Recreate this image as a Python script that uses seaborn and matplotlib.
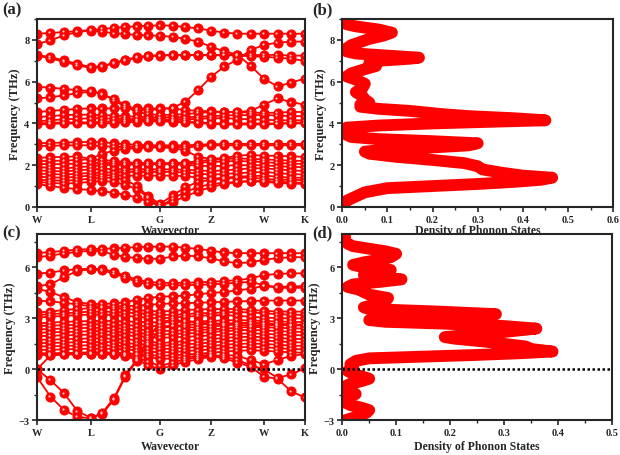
import numpy as np
import pandas as pd
import matplotlib
matplotlib.use("Agg")
import matplotlib.pyplot as plt
import seaborn as sns
from matplotlib.ticker import MultipleLocator, FixedFormatter, FormatStrFormatter

# ---------------- data ----------------
# k-path positions of the computed points (W -> L -> G -> Z -> W -> K)
k_path = [0.000, 0.050, 0.101, 0.151, 0.201, 0.244, 0.287, 0.330, 0.373, 0.416, 0.459,
          0.507, 0.554, 0.602, 0.649, 0.699, 0.748, 0.798, 0.847, 0.898, 0.949, 1.000]
hs_labels = ["W", "L", "G", "Z", "W", "K"]
hs_index = [0, 4, 10, 14, 18, 21]

# (a) phonon bands, THz
bands_a = [
    [8.30, 8.33, 8.38, 8.42, 8.48, 8.52, 8.58, 8.62, 8.66, 8.68, 8.70, 8.68, 8.62, 8.55, 8.45, 8.35, 8.30, 8.30, 8.30, 8.30, 8.30, 8.30],
    [7.80, 7.98, 8.22, 8.38, 8.45, 8.40, 8.32, 8.28, 8.24, 8.22, 8.20, 8.15, 8.05, 7.92, 7.68, 7.45, 7.30, 6.75, 6.15, 5.77, 5.96, 6.15],
    [7.25, 7.12, 6.95, 6.78, 6.66, 6.72, 6.88, 7.02, 7.15, 7.22, 7.25, 7.27, 7.28, 7.28, 7.28, 7.28, 7.28, 7.28, 7.28, 7.28, 7.25, 7.25],
    [7.28, 7.18, 7.02, 6.85, 6.70, 6.75, 6.90, 7.05, 7.18, 7.24, 7.27, 7.28, 7.28, 7.28, 7.28, 7.28, 7.25, 7.22, 7.20, 7.15, 7.10, 7.00],
    [5.75, 5.72, 5.65, 5.60, 5.55, 5.38, 5.18, 4.88, 4.66, 4.62, 4.70, 4.75, 5.04, 5.60, 6.22, 6.73, 7.05, 7.52, 7.76, 7.87, 7.92, 7.92],
    [5.20, 5.25, 5.35, 5.45, 5.52, 5.45, 5.10, 4.80, 4.55, 4.45, 4.40, 4.42, 4.45, 4.50, 4.55, 4.55, 4.55, 4.60, 4.90, 5.20, 5.02, 4.90],
    [4.55, 4.60, 4.65, 4.70, 4.72, 4.72, 4.72, 4.72, 4.72, 4.72, 4.72, 4.70, 4.65, 4.60, 4.58, 4.55, 4.55, 4.52, 4.50, 4.52, 4.55, 4.55],
    [4.30, 4.35, 4.40, 4.42, 4.42, 4.40, 4.38, 4.35, 4.32, 4.30, 4.30, 4.30, 4.30, 4.32, 4.35, 4.38, 4.40, 4.40, 4.40, 4.38, 4.35, 4.35],
    [4.10, 4.15, 4.20, 4.22, 4.25, 4.25, 4.22, 4.22, 4.20, 4.20, 4.20, 4.20, 4.20, 4.22, 4.25, 4.25, 4.22, 4.20, 4.18, 4.15, 4.15, 4.15],
    [4.00, 4.02, 4.05, 4.05, 4.05, 4.08, 4.10, 4.12, 4.15, 4.15, 4.15, 4.12, 4.10, 4.05, 4.02, 4.00, 4.00, 4.00, 4.00, 4.00, 4.02, 4.05],
    [3.95, 3.98, 4.00, 4.00, 4.00, 4.00, 4.02, 4.05, 4.08, 4.10, 4.10, 4.08, 4.05, 4.02, 3.98, 3.95, 3.95, 3.95, 3.95, 3.98, 4.00, 4.00],
    [3.05, 3.07, 3.08, 3.10, 3.12, 3.10, 3.05, 3.00, 2.98, 2.95, 2.95, 2.95, 2.95, 2.98, 3.00, 3.02, 3.02, 3.02, 3.02, 3.02, 3.02, 3.02],
    [2.92, 2.93, 2.95, 2.95, 2.95, 2.92, 2.88, 2.88, 2.88, 2.90, 2.90, 2.88, 2.85, 2.90, 2.95, 2.95, 2.95, 2.95, 2.95, 2.95, 2.95, 2.95],
    [2.35, 2.38, 2.40, 2.42, 2.30, 2.55, 2.70, 2.78, 2.82, 2.85, 2.85, 2.82, 2.70, 2.40, 2.30, 2.35, 2.45, 2.50, 2.45, 2.45, 2.42, 2.40],
    [2.20, 2.20, 2.22, 2.25, 2.28, 2.25, 2.20, 2.15, 2.10, 2.10, 2.10, 2.10, 2.12, 2.20, 2.25, 2.30, 2.32, 2.30, 2.28, 2.25, 2.22, 2.20],
    [2.05, 2.05, 2.05, 2.08, 2.10, 2.12, 2.10, 2.08, 2.05, 2.05, 2.05, 2.05, 2.08, 2.12, 2.15, 2.18, 2.20, 2.18, 2.15, 2.10, 2.08, 2.05],
    [1.90, 1.88, 1.85, 1.90, 1.95, 2.00, 2.02, 2.02, 2.05, 2.05, 2.05, 2.05, 2.02, 1.98, 1.95, 1.98, 2.00, 2.00, 2.00, 1.95, 1.92, 1.90],
    [1.75, 1.72, 1.70, 1.75, 1.80, 1.82, 1.82, 1.80, 1.80, 1.80, 1.80, 1.80, 1.78, 1.75, 1.72, 1.75, 1.80, 1.85, 1.85, 1.80, 1.75, 1.72],
    [1.60, 1.58, 1.55, 1.60, 1.62, 1.65, 1.65, 1.68, 1.68, 1.68, 1.68, 1.68, 1.65, 1.60, 1.55, 1.58, 1.62, 1.65, 1.68, 1.62, 1.58, 1.55],
    [1.45, 1.42, 1.40, 1.45, 1.50, 1.52, 1.52, 1.50, 1.50, 1.50, 1.50, 1.50, 1.48, 1.40, 1.35, 1.40, 1.45, 1.48, 1.50, 1.45, 1.40, 1.40],
    [1.30, 1.28, 1.25, 1.30, 1.35, 1.40, 1.40, 1.30, 1.00, 0.50, 0.15, 0.55, 0.95, 1.20, 1.30, 1.35, 1.40, 1.40, 1.35, 1.30, 1.30, 1.28],
    [1.20, 1.15, 1.12, 1.15, 1.20, 1.25, 1.20, 1.05, 0.85, 0.45, 0.00, 0.40, 0.72, 0.95, 1.10, 1.15, 1.20, 1.22, 1.25, 1.20, 1.18, 1.15],
    [1.10, 1.00, 0.92, 0.85, 0.82, 0.75, 0.68, 0.58, 0.45, 0.25, 0.05, 0.25, 0.50, 0.75, 0.95, 1.10, 1.20, 1.25, 1.20, 1.15, 1.12, 1.10],
]

# (c) phonon bands, THz (imaginary modes shown as negative)
bands_c = [
    [6.85, 6.90, 6.98, 7.05, 7.08, 7.10, 7.12, 7.15, 7.20, 7.22, 7.23, 7.23, 7.15, 7.10, 6.98, 6.88, 6.84, 6.84, 6.84, 6.84, 6.84, 6.84],
    [6.60, 6.70, 6.82, 6.92, 6.98, 6.95, 6.75, 6.62, 6.55, 6.52, 6.50, 6.65, 6.70, 6.65, 6.54, 6.35, 6.25, 6.30, 6.45, 6.55, 6.60, 6.60],
    [5.63, 5.70, 5.82, 5.90, 5.93, 5.90, 5.75, 5.50, 5.28, 5.15, 5.10, 5.08, 5.10, 5.12, 5.15, 5.20, 5.25, 5.35, 5.55, 5.62, 5.65, 5.65],
    [4.90, 5.00, 5.43, 5.80, 5.88, 5.82, 5.65, 5.40, 5.15, 5.00, 4.95, 4.95, 4.95, 4.98, 5.00, 5.05, 5.10, 5.15, 4.95, 4.85, 4.88, 4.90],
    [4.75, 4.55, 4.25, 3.95, 3.85, 3.85, 3.88, 3.95, 4.10, 4.20, 4.28, 4.30, 4.35, 4.42, 4.50, 4.55, 4.65, 4.75, 4.92, 4.80, 4.80, 4.80],
    [4.05, 4.00, 3.92, 3.82, 3.72, 3.70, 3.70, 3.72, 3.75, 3.80, 3.85, 3.88, 3.90, 3.92, 3.95, 3.98, 4.00, 4.02, 4.05, 4.05, 4.05, 4.05],
    [3.35, 3.40, 3.50, 3.55, 3.60, 3.62, 3.60, 3.55, 3.50, 3.45, 3.40, 3.45, 3.50, 3.52, 3.55, 3.55, 3.55, 3.50, 3.45, 3.40, 3.40, 3.40],
    [3.20, 3.25, 3.30, 3.35, 3.40, 3.40, 3.38, 3.35, 3.30, 3.25, 3.20, 3.22, 3.25, 3.30, 3.32, 3.35, 3.38, 3.35, 3.30, 3.25, 3.22, 3.20],
    [3.05, 3.10, 3.15, 3.20, 3.22, 3.22, 3.20, 3.15, 3.10, 3.05, 3.00, 3.05, 3.10, 3.15, 3.18, 3.20, 3.15, 3.10, 3.05, 3.02, 3.00, 3.00],
    [2.70, 2.75, 2.80, 2.82, 2.85, 2.85, 2.85, 2.82, 2.80, 2.78, 2.75, 2.78, 2.80, 2.82, 2.85, 2.88, 2.90, 2.88, 2.85, 2.82, 2.80, 2.78],
    [2.55, 2.58, 2.60, 2.62, 2.65, 2.65, 2.62, 2.60, 2.58, 2.55, 2.55, 2.55, 2.50, 2.45, 2.50, 2.60, 2.70, 2.75, 2.70, 2.65, 2.60, 2.58],
    [2.35, 2.38, 2.40, 2.42, 2.45, 2.45, 2.42, 2.40, 2.35, 2.30, 2.25, 2.28, 2.30, 2.32, 2.35, 2.40, 2.45, 2.50, 2.48, 2.45, 2.42, 2.40],
    [2.15, 2.18, 2.20, 2.22, 2.25, 2.25, 2.22, 2.20, 2.15, 2.10, 2.05, 2.08, 2.12, 2.15, 2.20, 2.25, 2.30, 2.32, 2.30, 2.25, 2.22, 2.20],
    [1.95, 1.98, 2.00, 2.02, 2.05, 2.05, 2.02, 2.00, 1.95, 1.90, 1.85, 1.88, 1.92, 1.95, 2.00, 2.05, 2.10, 2.12, 2.10, 2.05, 2.02, 2.00],
    [1.75, 1.75, 1.78, 1.80, 1.82, 1.82, 1.80, 1.78, 1.72, 1.65, 1.55, 1.60, 1.68, 1.72, 1.78, 1.85, 1.90, 1.92, 1.90, 1.85, 1.80, 1.78],
    [1.55, 1.55, 1.58, 1.60, 1.62, 1.62, 1.60, 1.55, 1.50, 1.45, 1.40, 1.42, 1.48, 1.52, 1.58, 1.65, 1.70, 1.72, 1.70, 1.65, 1.60, 1.58],
    [1.35, 1.35, 1.38, 1.40, 1.42, 1.42, 1.40, 1.35, 1.30, 1.25, 1.20, 1.22, 1.28, 1.32, 1.38, 1.45, 1.50, 1.52, 1.50, 1.45, 1.40, 1.38],
    [1.15, 1.15, 1.18, 1.20, 1.22, 1.22, 1.20, 1.18, 1.12, 1.05, 1.00, 1.02, 1.08, 1.12, 1.18, 1.25, 1.30, 1.32, 1.30, 1.25, 1.20, 1.18],
    [0.95, 0.95, 0.95, 0.98, 1.00, 1.00, 0.98, 0.95, 0.90, 0.85, 0.80, 0.82, 0.88, 0.92, 0.98, 1.05, 1.10, 1.12, 1.10, 1.05, 1.00, 0.98],
    [0.00, 0.82, 0.88, 0.90, 0.90, 0.90, 0.88, 0.80, 0.55, 0.25, 0.00, 0.25, 0.45, 0.60, 0.75, 0.85, 0.80, 0.55, 0.30, 0.55, 0.80, 0.90],
    [0.85, 0.85, 0.88, 0.90, 0.92, 0.92, 0.90, 0.85, 0.70, 0.45, 0.20, 0.40, 0.60, 0.72, 0.80, 0.65, 0.40, 0.15, -0.43, -0.55, -1.30, -1.65],
    [0.90, 0.92, 0.95, 0.95, 0.95, 0.95, 0.92, 0.90, 0.85, 0.75, 0.60, 0.65, 0.72, 0.80, 0.85, 0.75, 0.55, 0.25, 0.00, -0.50, -0.30, 0.06],
    [-0.45, -1.60, -2.39, -2.81, -2.87, -2.55, -1.70, -0.35, 0.60, 1.80, 2.80, 2.90, 2.85, 2.75, 2.70, 2.65, 2.60, 2.60, 2.60, 2.60, 2.60, 2.60],
    [0.00, -0.63, -1.40, -2.46, -2.85, -2.62, -1.78, -0.42, 0.50, 1.50, 2.40, 2.55, 2.62, 2.65, 2.68, 2.70, 2.72, 2.72, 2.70, 2.68, 2.65, 2.62],
]

# (b) phonon DOS
dos_b_freq = [0.00, 0.30, 0.50, 0.70, 0.90, 1.00, 1.10, 1.20, 1.30, 1.40, 1.50, 1.65, 1.80, 1.95, 2.10,
              2.25, 2.40, 2.55, 2.65, 2.75, 2.85, 2.95, 3.05, 3.15, 3.25, 3.35, 3.45, 3.60, 3.80, 3.90,
              4.00, 4.08, 4.15, 4.25, 4.35, 4.45, 4.60, 4.70, 4.80, 4.90, 5.00, 5.15, 5.30, 5.50, 5.70,
              5.90, 6.10, 6.25, 6.40, 6.60, 6.75, 6.90, 7.00, 7.10, 7.15, 7.25, 7.35, 7.45, 7.60, 7.75,
              7.90, 8.05, 8.20, 8.35, 8.50, 8.65, 8.75, 8.85]
dos_b = [0.000, 0.010, 0.030, 0.050, 0.100, 0.200, 0.300, 0.380, 0.440, 0.465, 0.400, 0.350, 0.310, 0.300, 0.270,
         0.200, 0.120, 0.060, 0.050, 0.100, 0.200, 0.280, 0.300, 0.200, 0.080, 0.020, 0.010, 0.005, 0.010, 0.080,
         0.200, 0.330, 0.450, 0.380, 0.280, 0.220, 0.150, 0.080, 0.040, 0.040, 0.060, 0.050, 0.045, 0.030, 0.045,
         0.050, 0.030, 0.010, 0.020, 0.050, 0.075, 0.060, 0.080, 0.150, 0.170, 0.100, 0.030, 0.010, 0.010, 0.020,
         0.040, 0.060, 0.090, 0.110, 0.080, 0.030, 0.010, 0.000]

# (d) phonon DOS
dos_d_freq = [-3.00, -2.85, -2.70, -2.55, -2.40, -2.25, -2.10, -1.95, -1.75, -1.60, -1.45, -1.30, -1.15, -1.00,
              -0.85, -0.70, -0.55, -0.40, -0.25, -0.10, 0.00, 0.15, 0.30, 0.50, 0.65, 0.75, 0.85, 0.95, 1.05,
              1.20, 1.35, 1.50, 1.65, 1.80, 1.90, 2.05, 2.20, 2.40, 2.55, 2.70, 2.80, 2.90, 3.00, 3.10, 3.25,
              3.40, 3.55, 3.65, 3.80, 4.00, 4.20, 4.40, 4.55, 4.70, 4.85, 5.00, 5.15, 5.30, 5.45, 5.55, 5.70,
              5.85, 6.00, 6.15, 6.30, 6.45, 6.60, 6.80, 6.95, 7.10, 7.25, 7.40, 7.60, 7.80, 7.95]
dos_d = [0.005, 0.020, 0.035, 0.045, 0.050, 0.035, 0.015, 0.005, 0.005, 0.015, 0.025, 0.015, 0.005, 0.005,
         0.015, 0.035, 0.050, 0.035, 0.020, 0.010, 0.020, 0.020, 0.015, 0.025, 0.050, 0.150, 0.250, 0.330, 0.390,
         0.350, 0.340, 0.300, 0.260, 0.210, 0.190, 0.240, 0.300, 0.360, 0.300, 0.180, 0.080, 0.050, 0.120, 0.220, 0.285,
         0.180, 0.050, 0.040, 0.060, 0.080, 0.085, 0.050, 0.040, 0.030, 0.010, 0.020, 0.070, 0.110, 0.060, 0.040, 0.070,
         0.090, 0.040, 0.020, 0.040, 0.070, 0.090, 0.100, 0.080, 0.050, 0.020, 0.010, 0.005, 0.005, 0.005]

# ---------------- style ----------------
sns.set_style("ticks")
plt.rcParams["font.family"] = ["Liberation Serif", "DejaVu Serif"]
plt.rcParams["font.weight"] = "bold"
plt.rcParams["axes.labelweight"] = "bold"
plt.rcParams["axes.linewidth"] = 1.5
plt.rcParams["xtick.major.width"] = 1.2
plt.rcParams["ytick.major.width"] = 1.2
plt.rcParams["xtick.minor.width"] = 1.0
plt.rcParams["ytick.minor.width"] = 1.0
plt.rcParams["xtick.major.size"] = 3.5
plt.rcParams["ytick.major.size"] = 3.5
plt.rcParams["xtick.minor.size"] = 2
plt.rcParams["ytick.minor.size"] = 2

RED = "#ff0000"

fig = plt.figure(figsize=(6.2, 4.56), dpi=100)
ax_a = fig.add_axes([0.0597, 0.544, 0.432, 0.412])
ax_b = fig.add_axes([0.552, 0.544, 0.437, 0.412])
ax_c = fig.add_axes([0.0597, 0.076, 0.432, 0.408])
ax_d = fig.add_axes([0.552, 0.076, 0.435, 0.408])


def bands_frame(bands):
    rows = []
    for b, vals in enumerate(bands):
        for k, f in zip(k_path, vals):
            rows.append({"band": b, "k": k, "freq": f})
    return pd.DataFrame(rows)


def draw_bands(ax, bands, ylim):
    df = bands_frame(bands)
    sns.lineplot(data=df, x="k", y="freq", units="band", estimator=None, sort=False,
                 color=RED, lw=1.3, marker="o", markersize=6.5, markeredgecolor=RED,
                 markerfacecolor=RED, ax=ax, legend=False)
    # small highlight on the balls
    dy = 0.03 * (ylim[1] - ylim[0]) / 9
    ax.scatter(df["k"] - 0.004, df["freq"] + dy, s=2.5, color="#ffc8c8", zorder=4, linewidths=0)
    ax.set_xlim(0, 1)
    ax.set_ylim(*ylim)
    ax.set_xticks([k_path[i] for i in hs_index])
    ax.xaxis.set_major_formatter(FixedFormatter(hs_labels))
    ax.set_ylabel("Frequency (THz)", fontsize=9)


def draw_dos(ax, dos, freq, xlim, ylim):
    sns.lineplot(x=dos, y=freq, sort=False, estimator=None, ax=ax, color=RED, lw=8.5,
                 solid_capstyle="round", solid_joinstyle="round")
    ax.set_xlim(*xlim)
    ax.set_ylim(*ylim)
    ax.set_ylabel("Frequency (THz)", fontsize=9)
    ax.xaxis.set_major_locator(MultipleLocator(0.1))
    ax.xaxis.set_minor_locator(MultipleLocator(0.05))
    ax.xaxis.set_major_formatter(FormatStrFormatter("%.1f"))


draw_bands(ax_a, bands_a, (0, 9))
ax_a.set_xlabel("Wavevector", fontsize=8.5, labelpad=0)
ax_a.yaxis.set_major_locator(MultipleLocator(2))
ax_a.yaxis.set_minor_locator(MultipleLocator(1))

draw_bands(ax_c, bands_c, (-3, 7.95))
ax_c.set_xlabel("Wavevector", fontsize=8.5, labelpad=2.5)
ax_c.yaxis.set_major_locator(MultipleLocator(3))
ax_c.yaxis.set_minor_locator(MultipleLocator(1.5))
ax_c.axhline(0, color="black", ls=(0, (1, 1)), lw=1.8, zorder=5)

draw_dos(ax_b, dos_b, dos_b_freq, (0, 0.6), (0, 9))
ax_b.set_xlabel("Density of Phonon States", fontsize=8.5, labelpad=0)
ax_b.yaxis.set_major_locator(MultipleLocator(2))
ax_b.yaxis.set_minor_locator(MultipleLocator(1))

draw_dos(ax_d, dos_d, dos_d_freq, (0, 0.5), (-3, 7.95))
ax_d.set_xlabel("Density of Phonon States", fontsize=8.5, labelpad=2.5)
ax_d.yaxis.set_major_locator(MultipleLocator(3))
ax_d.yaxis.set_minor_locator(MultipleLocator(1.5))
ax_d.axhline(0, color="black", ls=(0, (1, 1)), lw=1.8, zorder=5)

for ax in (ax_a, ax_b, ax_c, ax_d):
    ax.tick_params(labelsize=7.5, pad=2)
    for lab in ax.get_xticklabels() + ax.get_yticklabels():
        lab.set_fontweight("bold")
    ax.yaxis.labelpad = 2
    for s in ax.spines.values():
        s.set_visible(True)
        s.set_zorder(10)

for txt, x, y in [("(a)", 0.004, 0.995), ("(b)", 0.503, 0.995), ("(c)", 0.004, 0.505), ("(d)", 0.503, 0.505)]:
    fig.text(x, y, txt, fontsize=12, fontweight="bold", va="top", ha="left")

fig.savefig("out.png", dpi=100)
